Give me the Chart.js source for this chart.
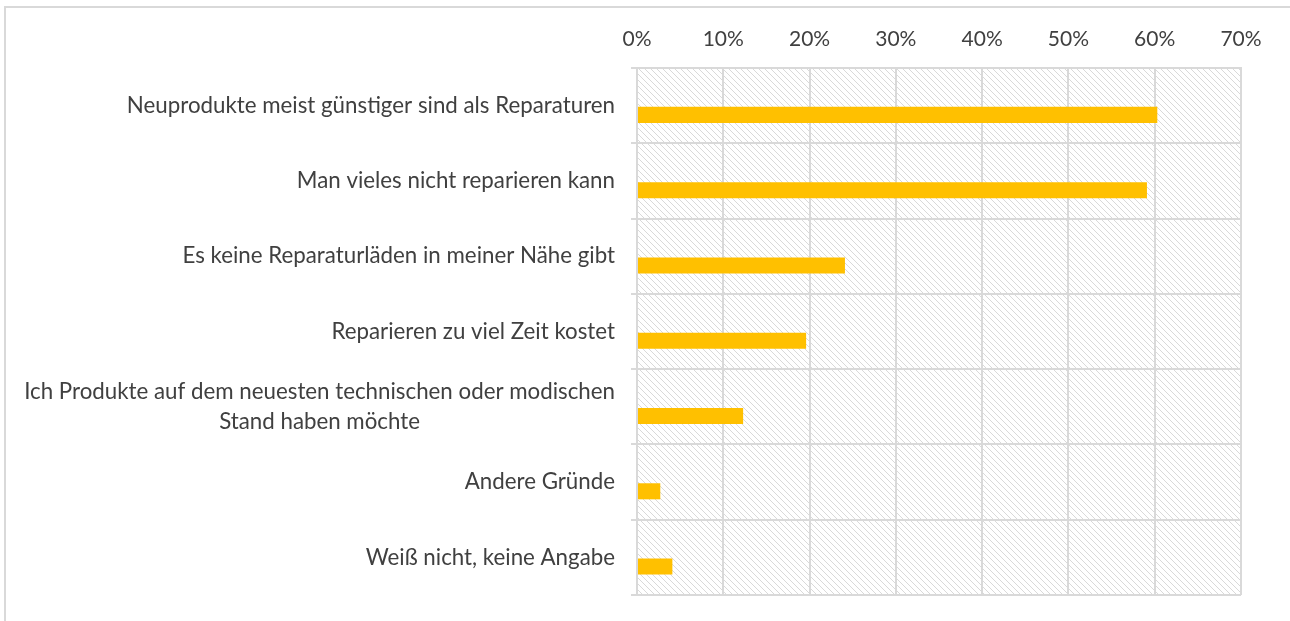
<!DOCTYPE html>
<html>
<head>
<meta charset="utf-8">
<script src="https://cdn.jsdelivr.net/npm/chart.js@4"></script>
<style>
  body { margin: 0; background: #fff; }
  #wrap { position: relative; width: 1290px; height: 621px; overflow: hidden; }
  #frame { position: absolute; left: 4px; top: 6px; width: 1400px; height: 700px;
           border-top: 2px solid #d9d9d9; border-left: 2px solid #d9d9d9; }
  canvas { position: absolute; left: 0; top: 0; }
</style>
</head>
<body>
<div id="wrap">
  <div id="frame"></div>
  <canvas id="barChart" width="1290" height="621"></canvas>
</div>
<script>
const categories = [
    'Neuprodukte meist günstiger sind als Reparaturen',
    'Man vieles nicht reparieren kann',
    'Es keine Reparaturläden in meiner Nähe gibt',
    'Reparieren zu viel Zeit kostet',
    ['Ich Produkte auf dem neuesten technischen oder modischen', 'Stand haben möchte'],
    'Andere Gründe',
    'Weiß nicht, keine Angabe'
];
const shares = [60.3, 59.1, 24.1, 19.6, 12.3, 2.7, 4.1];
const emptySeries = [null, null, null, null, null, null, null];
const xMax = 70;
const xStep = 10;

const textColor = '#404040';
const gridColor = '#d9d9d9';
const fontFamily = 'Lato, "Open Sans", sans-serif';

// light diagonal hatch behind the plot
const tile = document.createElement('canvas');
tile.width = 6;
tile.height = 6;
const tctx = tile.getContext('2d');
tctx.strokeStyle = '#d9d9d9';
tctx.lineWidth = 1;
tctx.beginPath();
tctx.moveTo(-1, -1);
tctx.lineTo(7, 7);
tctx.stroke();

const hatchPlugin = {
    id: 'hatch',
    beforeDraw(chart) {
        const { ctx, chartArea } = chart;
        ctx.save();
        ctx.fillStyle = ctx.createPattern(tile, 'repeat');
        ctx.fillRect(chartArea.left, chartArea.top, chartArea.right - chartArea.left, chartArea.bottom - chartArea.top);
        ctx.restore();
    }
};

// category labels: block right aligned, lines centred within block
const labelPlugin = {
    id: 'catLabels',
    afterDraw(chart) {
        const { ctx } = chart;
        const yScale = chart.scales.y;
        const rightX = 615;
        const lineH = 30;
        ctx.save();
        ctx.font = '22.3px ' + fontFamily;
        ctx.fillStyle = textColor;
        ctx.textAlign = 'center';
        ctx.textBaseline = 'middle';
        categories.forEach((label, i) => {
            const lines = Array.isArray(label) ? label : [label];
            const widest = Math.max(...lines.map(l => ctx.measureText(l).width));
            const cx = rightX - widest / 2;
            const cy = yScale.getPixelForValue(i);
            lines.forEach((l, j) => {
                ctx.fillText(l, cx, cy + (j - (lines.length - 1) / 2) * lineH);
            });
        });
        ctx.restore();
    }
};

const barCtx = document.getElementById('barChart').getContext('2d');
new Chart(barCtx, {
    type: 'bar',
    data: {
        labels: categories,
        datasets: [{
            label: '',
            data: emptySeries,
            backgroundColor: 'rgba(0,0,0,0)'
        }, {
            label: 'Anteil',
            data: shares,
            backgroundColor: '#ffc000',
            borderWidth: 0
        }]
    },
    options: {
        indexAxis: 'y',
        responsive: false,
        animation: false,
        categoryPercentage: 0.49,
        barPercentage: 0.87,
        layout: { padding: { left: 0, right: 49, top: 0, bottom: 26 } },
        plugins: {
            legend: { display: false },
            tooltip: { enabled: false }
        },
        scales: {
            x: {
                position: 'top',
                min: 0,
                max: xMax,
                ticks: {
                    stepSize: xStep,
                    color: textColor,
                    font: { family: fontFamily, size: 21 },
                    padding: 16,
                    callback: v => v + '%'
                },
                grid: { color: gridColor, lineWidth: 2, drawTicks: false },
                border: { color: gridColor, width: 2 },
                afterFit: s => { s.height = 68; }
            },
            y: {
                ticks: { display: false },
                grid: { color: gridColor, lineWidth: 2, tickLength: 6, offset: true },
                border: { color: gridColor, width: 2 },
                afterFit: s => { s.width = 637; }
            }
        }
    },
    plugins: [hatchPlugin, labelPlugin]
});
</script>
</body>
</html>
